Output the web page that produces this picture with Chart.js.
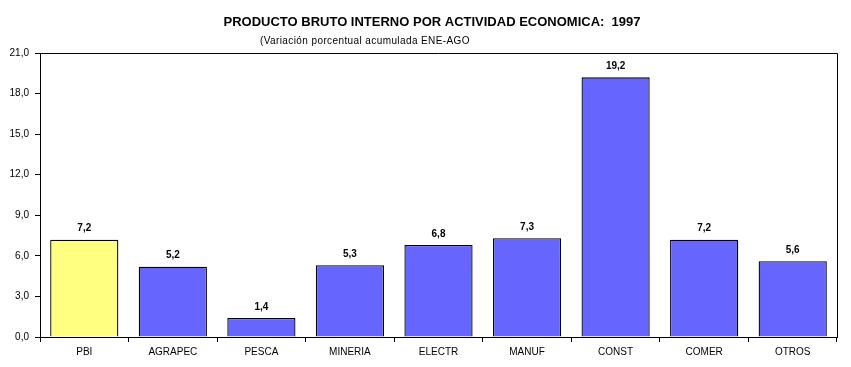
<!DOCTYPE html>
<html>
<head>
<meta charset="utf-8">
<script src="https://cdn.jsdelivr.net/npm/chart.js@4/dist/chart.umd.min.js"></script>
<style>
  html, body { margin: 0; padding: 0; background: #fff; }
  #wrap { width: 851px; height: 367px; }
</style>
</head>
<body>
<div id="wrap"><canvas id="pbiChart" width="851" height="367"></canvas></div>
<script>
// datos
const sectores = ["PBI", "AGRAPEC", "PESCA", "MINERIA", "ELECTR", "MANUF", "CONST", "COMER", "OTROS"];
const variacion = [7.2, 5.2, 1.4, 5.3, 6.8, 7.3, 19.2, 7.2, 5.6];
const colores = ["#FFFF80", "#6666FF", "#6666FF", "#6666FF", "#6666FF", "#6666FF", "#6666FF", "#6666FF", "#6666FF"];
const titulo = "PRODUCTO BRUTO INTERNO POR ACTIVIDAD ECONOMICA:  1997";
const subtitulo = "(Variación porcentual acumulada ENE-AGO";

const fmt = v => v.toFixed(1).replace(".", ",");
const FONT = "'Liberation Sans', Arial, sans-serif";

// titulos, marco y etiquetas de valores
const extras = {
    id: "extras",
    afterDatasetsDraw(chart) {
        const c = chart.ctx;
        const a = chart.chartArea;
        c.save();
        // marco superior y derecho
        c.strokeStyle = "#000";
        c.lineWidth = 1;
        c.beginPath();
        c.moveTo(a.left, a.top + 0.5);
        c.lineTo(a.right + 0.5, a.top + 0.5);
        c.lineTo(a.right + 0.5, a.bottom);
        c.stroke();

        // valores sobre las barras
        c.fillStyle = "#000";
        c.font = "bold 10px " + FONT;
        c.textAlign = "center";
        c.textBaseline = "bottom";
        chart.getDatasetMeta(0).data.forEach((bar, i) => {
            c.fillText(fmt(variacion[i]), bar.x, bar.y - 6);
        });

        // titulos
        c.font = "bold 13px " + FONT;
        c.textBaseline = "middle";
        c.fillText(titulo, 432, 22);
        c.font = "10px " + FONT;
        c.letterSpacing = "0.4px";
        c.textAlign = "left";
        c.fillText(subtitulo, 260, 41);
        c.restore();
    }
};

new Chart(document.getElementById("pbiChart"), {
    type: "bar",
    data: {
        labels: sectores,
        datasets: [{
            data: variacion,
            backgroundColor: colores,
            borderColor: "#000",
            borderWidth: 1.3,
            borderSkipped: "bottom",
            categoryPercentage: 1,
            barPercentage: 0.77
        }]
    },
    options: {
        responsive: false,
        animation: false,
        devicePixelRatio: 1,
        layout: { padding: { left: 0, right: 14, top: 53, bottom: 0 } },
        plugins: {
            legend: { display: false },
            title: { display: false },
            tooltip: { enabled: false }
        },
        scales: {
            x: {
                afterFit: s => { s.height = 30; },
                grid: {
                    offset: true,
                    drawOnChartArea: false,
                    drawTicks: true,
                    tickLength: 5,
                    color: "#000"
                },
                border: { color: "#000", width: 1 },
                ticks: {
                    color: "#000",
                    font: { family: FONT, size: 10 },
                    padding: 4,
                    maxRotation: 0
                }
            },
            y: {
                min: 0,
                max: 21,
                afterFit: s => { s.width = 40; },
                grid: {
                    drawOnChartArea: false,
                    drawTicks: true,
                    tickLength: 5,
                    color: "#000"
                },
                border: { color: "#000", width: 1 },
                ticks: {
                    stepSize: 3,
                    color: "#000",
                    font: { family: FONT, size: 10 },
                    padding: 6,
                    callback: v => fmt(v)
                }
            }
        }
    },
    plugins: [extras]
});
</script>
</body>
</html>
